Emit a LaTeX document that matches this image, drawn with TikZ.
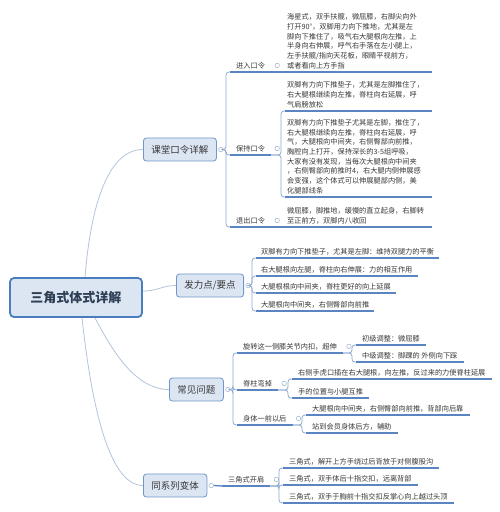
\documentclass[tikz,border=0pt]{standalone}
\usepackage{fontspec}
\setmainfont{Noto Sans CJK SC}
\usetikzlibrary{calc}
\definecolor{rootblue}{HTML}{4A7DBF}
\definecolor{boxfill}{HTML}{DCE6F2}
\definecolor{topicborder}{HTML}{7096CC}
\definecolor{rootText}{HTML}{2D3E55}
\definecolor{txt}{HTML}{383838}
\definecolor{ulblue}{HTML}{5B84C2}
\definecolor{connblue}{HTML}{8FA9D1}
\definecolor{rootconn}{HTML}{B4C4DC}
\definecolor{knobc}{HTML}{9BB0D0}
\begin{document}
\begin{tikzpicture}[x=1pt,y=-1pt,
  root/.style={draw=rootblue, line width=1.8pt, fill=boxfill, rounded corners=4pt,
    minimum width=132pt, minimum height=39pt, font=\fontsize{13}{15}\selectfont\bfseries, text=rootText},
  topic/.style={draw=topicborder, line width=0.8pt, fill=boxfill, rounded corners=3pt,
    minimum height=23pt, inner xsep=8pt, font=\fontsize{9.5}{11}\selectfont, text=txt, anchor=west},
  uline/.style={draw=ulblue, line width=1.3pt},
  leaf/.style={anchor=south west, inner xsep=6pt, inner ysep=3pt, align=left,
    font=\fontsize{7.2}{9.7}\selectfont, text=txt,
    append after command={\pgfextra{\let\mylastnode\tikzlastnode}
      (\mylastnode.south west) edge[uline] (\mylastnode.south east)}},
  block/.style={leaf, inner xsep=2pt, text width=143pt},
  conn/.style={draw=connblue, line width=0.8pt, rounded corners=3pt},
  rconn/.style={draw=rootconn, line width=0.8pt},
  knob/.style={circle, draw=knobc, fill=white, line width=0.5pt, inner sep=0pt, minimum size=4.5pt},
]
\useasboundingbox[fill=white] (0,0) rectangle (500,512);

% ---------- root and main topics ----------
\node[root] (root) at (76,297.5) {三角式体式详解};
\node[topic] (A) at (143,149.5) {课堂口令详解};
\node[topic] (B) at (176,285.5) {发力点/要点};
\node[topic] (C) at (169,389.5) {常见问题};
\node[topic] (D) at (143,485.5) {同系列变体};
\node[knob] (kA) at ($(A.east)+(4,0)$) {};
\node[knob] (kB) at ($(B.east)+(4,0)$) {};
\node[knob] (kC) at ($(C.east)+(4,0)$) {};
\node[knob] (kD) at ($(D.east)+(4,0)$) {};

% ---------- section A ----------
\node[leaf] (a1) at (230,72) {进入口令};
\node[block] (a1x) at (285,72) {海星式，双手扶髋，微屈膝，右脚尖向外\\打开90°，双脚用力向下推地，尤其是左\\脚向下推住了，吸气右大腿根向左推，上\\半身向右伸展，呼气右手落在左小腿上，\\左手扶髋/指向天花板，眼睛平视前方，\\或者看向上方手指};
\node[leaf] (a2) at (230,155) {保持口令};
\node[block] (a2x) at (285,111) {双脚有力向下推垫子，尤其是左脚推住了，\\右大腿根继续向左推，脊柱向右延展，呼\\气肩膀放松};
\node[block] (a2y) at (285,197) {双脚有力向下推垫子尤其是左脚，推住了，\\右大腿根继续向左推，脊柱向右延展，呼\\气，大腿根向中间夹，右侧臀部向前推，\\胸腔向上打开，保持深长的3-5组呼吸，\\大家有没有发现，当每次大腿根向中间夹\\，右侧臀部向前推时4，右大腿内侧伸展感\\会变强，这个体式可以伸展腿部内侧，美\\化腿部线条};
\node[leaf] (a3) at (230,227) {退出口令};
\node[block] (a3x) at (285,227) {微屈膝，脚推地，缓慢的直立起身，右脚转\\至正前方，双脚内八收回};
\node[knob] (ka1) at ($(a1.east)+(6,0)$) {};
\node[knob] (ka2) at ($(a2.east)+(6,0)$) {};
\node[knob] (ka3) at ($(a3.east)+(6,0)$) {};

% ---------- section B ----------
\node[leaf, inner xsep=5pt] (b1) at (256,258) {双脚有力向下推垫子，尤其是左脚：维持双腿力的平衡};
\node[leaf, inner xsep=5pt] (b2) at (256,276) {右大腿根向左腿，脊柱向右伸展：力的相互作用};
\node[leaf, inner xsep=5pt] (b3) at (256,293) {大腿根根向中间夹，脊柱更好的向上延展};
\node[leaf, inner xsep=5pt] (b4) at (256,311) {大腿根向中间夹，右侧臀部向前推};

% ---------- section C ----------
\node[leaf] (c1) at (237,353) {旋转这一侧膝关节内扣，超伸};
\node[leaf] (c1a) at (356,345) {初级调整：微屈膝};
\node[leaf] (c1b) at (356,362) {中级调整：脚踝的 外侧向下踩};
\node[leaf] (c2) at (237,390) {脊柱弯掉};
\node[leaf] (c2a) at (292,379) {右侧手虎口插在右大腿根，向左推，反过来的力使脊柱延展};
\node[leaf] (c2b) at (292,398) {手的位置与小腿互推};
\node[leaf] (c3) at (237,425) {身体一前以后};
\node[leaf] (c3a) at (306,415) {大腿根向中间夹，右侧臀部向前推，背部向后靠};
\node[leaf] (c3b) at (306,433) {站到会员身体后方，辅助};
\node[knob] (kc1) at ($(c1.east)+(6,0)$) {};
\node[knob] (kc2) at ($(c2.east)+(6,0)$) {};
\node[knob] (kc3) at ($(c3.east)+(6,0)$) {};

% ---------- section D ----------
\node[leaf] (d1) at (222,486) {三角式开肩};
\node[leaf] (d1a) at (283,468) {三角式，解开上方手绕过后背放于对侧腹股沟};
\node[leaf] (d1b) at (283,485) {三角式，双手体后十指交扣，远离背部};
\node[leaf] (d1c) at (283,503) {三角式，双手于胸前十指交扣反掌心向上越过头顶};
\node[knob] (kd1) at ($(d1.east)+(6,0)$) {};

% ---------- root connectors ----------
\draw[rconn] ($(root.north)+(9,0)$) .. controls (90,215) and (105,149.5) .. (A.west);
\draw[rconn] ($(root.east)+(0,-6.5)$) .. controls (158,291) and (162,285.5) .. (B.west);
\draw[rconn] ($(root.south)+(19,0)$) .. controls (112,350) and (135,389.5) .. (C.west);
\draw[rconn] ($(root.south)+(6,0)$) .. controls (92,410) and (110,485.5) .. (D.west);

% ---------- branch connectors ----------
\foreach \t in {a1,a2,a3}{
  \draw[conn] (kA.east) -| ($(\t.south west)+(-4,0)$) -- (\t.south west);}
\draw[uline] (a1.south east) -- (a1x.south west);
\draw[conn] (a2.south east) -| ($(a2x.south west)+(-4,0)$) -- (a2x.south west);
\draw[conn] (a2.south east) -| ($(a2y.south west)+(-4,0)$) -- (a2y.south west);
\draw[uline] (a3.south east) -- (a3x.south west);

\foreach \t in {b1,b2,b3,b4}{
  \draw[conn] (kB.east) -| ($(\t.south west)+(-4,0)$) -- (\t.south west);}

\foreach \t in {c1,c2,c3}{
  \draw[conn] (kC.east) -| ($(\t.south west)+(-4,0)$) -- (\t.south west);}
\foreach \t in {c1a,c1b}{
  \draw[conn] (c1.south east) -| ($(\t.south west)+(-4,0)$) -- (\t.south west);}
\foreach \t in {c2a,c2b}{
  \draw[conn] (c2.south east) -| ($(\t.south west)+(-4,0)$) -- (\t.south west);}
\foreach \t in {c3a,c3b}{
  \draw[conn] (c3.south east) -| ($(\t.south west)+(-4,0)$) -- (\t.south west);}

\draw[uline] (kD.east) -- (d1.south west);
\foreach \t in {d1a,d1b,d1c}{
  \draw[conn] (d1.south east) -| ($(\t.south west)+(-4,0)$) -- (\t.south west);}
\end{tikzpicture}
\end{document}
